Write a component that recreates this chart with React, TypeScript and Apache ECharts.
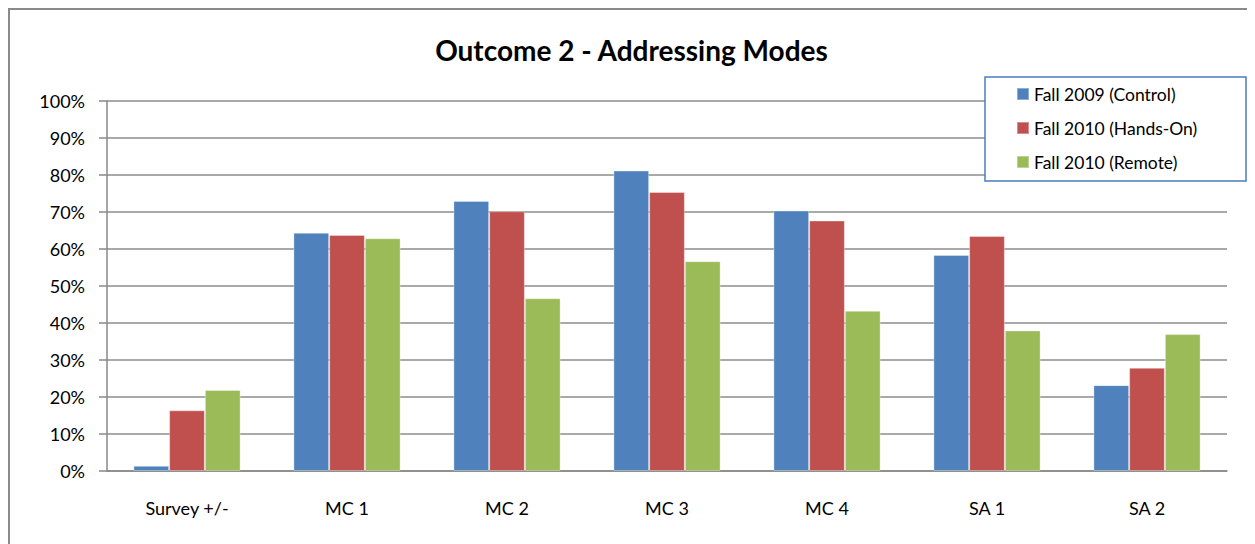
import React, { useEffect, useRef } from "react";
import * as echarts from "echarts";

const categories = ["Survey +/-", "MC 1", "MC 2", "MC 3", "MC 4", "SA 1", "SA 2"];
const seriesNames = ["Fall 2009 (Control)", "Fall 2010 (Hands-On)", "Fall 2010 (Remote)"];
const control = [1.4, 64.4, 73.0, 81.2, 70.4, 58.4, 23.2];
const handsOn = [16.4, 63.8, 70.2, 75.4, 67.7, 63.5, 27.9];
const remote = [21.9, 62.9, 46.7, 56.7, 43.3, 38.0, 37.0];
const colors = ["#4F81BD", "#C0504D", "#9BBB59"];
const yTicks = { min: 0, max: 100, interval: 10 };

const FONT = "Lato, 'Open Sans', sans-serif";

export default function App() {
  const ref = useRef<HTMLDivElement>(null);
  useEffect(() => {
    if (!ref.current) return;
    const chart = echarts.init(ref.current, undefined, { renderer: "svg" });
    const data = [control, handsOn, remote];
    chart.setOption({
      animation: false,
      backgroundColor: "#ffffff",
      textStyle: { fontFamily: FONT },
      title: {
        text: "Outcome 2 - Addressing Modes",
        left: "center",
        top: 23,
        textStyle: { fontFamily: FONT, fontSize: 28, fontWeight: "bold", color: "#000" },
      },
      graphic: [
        { type: "line", shape: { x1: 1, y1: 0, x2: 1, y2: 536 }, style: { stroke: "#8a8a8a", lineWidth: 2 } },
        { type: "line", shape: { x1: 0, y1: 1, x2: 1247, y2: 1 }, style: { stroke: "#8a8a8a", lineWidth: 2 } },
        {
          type: "rect",
          z: 10,
          shape: { x: 977, y: 69, width: 261, height: 104 },
          style: { fill: "#ffffff", stroke: "#4A7EBB", lineWidth: 1.5 },
        },
      ],
      legend: {
        orient: "vertical",
        left: 1008,
        top: 76,
        padding: 0,
        z: 20,
        itemWidth: 12,
        itemHeight: 12,
        itemGap: 14,
        icon: "rect",
        textStyle: { fontFamily: FONT, fontSize: 17.5, color: "#000", lineHeight: 20 },
        data: seriesNames,
      },
      grid: { left: 99, right: 28, top: 93, bottom: 73, containLabel: false },
      xAxis: {
        type: "category",
        data: categories,
        axisLine: { show: true, lineStyle: { color: "#888888", width: 1.5 } },
        axisTick: { show: false },
        axisLabel: { color: "#000", fontSize: 18, margin: 28, fontFamily: FONT },
      },
      yAxis: {
        type: "value",
        min: yTicks.min,
        max: yTicks.max,
        interval: yTicks.interval,
        axisLine: { show: true, lineStyle: { color: "#888888", width: 1.5 } },
        axisTick: { show: true, length: 8, lineStyle: { color: "#888888", width: 1.5 } },
        splitLine: { show: true, lineStyle: { color: "#8c8c8c", width: 1.5 } },
        axisLabel: { color: "#000", fontSize: 18, margin: 22, formatter: "{value}%", fontFamily: FONT },
      },
      series: seriesNames.map((name, i) => ({
        name,
        type: "bar",
        data: data[i],
        barGap: "0%",
        barCategoryGap: "33%",
        itemStyle: { color: colors[i], borderColor: "rgba(255,255,255,0.35)", borderWidth: 1 },
      })),
    });
    return () => chart.dispose();
  }, []);
  return <div ref={ref} style={{ width: 1247, height: 536 }} />;
}
